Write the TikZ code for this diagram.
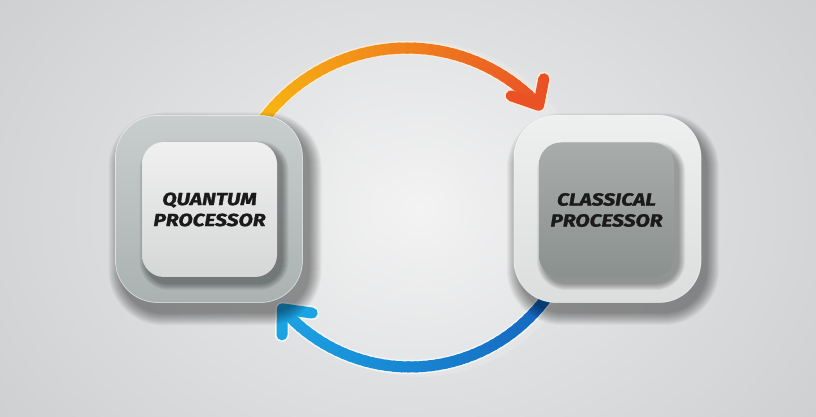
\documentclass[tikz,border=0pt]{standalone}
\usepackage{fontspec}
\newfontfamily\lblfont{Fira Sans}[FakeStretch=1.2, FakeBold=1.6]
\usetikzlibrary{calc}
\definecolor{bgin}{HTML}{EEEEEF}
\definecolor{bgout}{HTML}{C8CACC}
\definecolor{diskin}{HTML}{F5F5F5}
\definecolor{diskout}{HTML}{E5E6E7}
\definecolor{topstart}{HTML}{F8BA10}
\definecolor{topend}{HTML}{EA5226}
\definecolor{tophalo}{HTML}{FBEBD9}
\definecolor{botstart}{HTML}{1562BD}
\definecolor{botend}{HTML}{1BA4E4}
\definecolor{bothalo}{HTML}{F3F7FA}
\definecolor{lotop}{HTML}{C8CECD}
\definecolor{lobot}{HTML}{AAB2B1}
\definecolor{litop}{HTML}{F0F0F0}
\definecolor{libot}{HTML}{D5D6D6}
\definecolor{rotop}{HTML}{EEEFEF}
\definecolor{robot}{HTML}{DCDDDD}
\definecolor{ritop}{HTML}{A8ACAB}
\definecolor{ribot}{HTML}{8B918F}
\definecolor{lbl}{HTML}{1A1A1A}
\newcommand\boxshadow[8]{%
  \foreach \k in {1,...,#7}{%
    \pgfmathsetmacro\rr{#4+\k}%
    \fill[black, opacity=#8, rounded corners=\rr pt]
      ({#1-#3/2-\k+#5},{#2-#3/2-\k+#6}) rectangle ({#1+#3/2+\k+#5},{#2+#3/2+\k+#6});
  }}
\tikzset{
  outerbox/.style={rectangle, rounded corners=42pt, minimum width=187pt,
    minimum height=187pt, inner sep=0pt, draw=white, draw opacity=0.55, line width=0.8pt},
  innerbox/.style={rectangle, rounded corners=22pt, minimum width=135pt,
    minimum height=135pt, inner sep=0pt, align=center, text=lbl,
    font=\lblfont\bfseries\itshape\fontsize{17.5}{21}\selectfont},
  arcseg/.style={line width=11pt, line cap=butt},
  chevron/.style={line width=11pt, line cap=round, line join=round},
}
\begin{document}
\begin{tikzpicture}[x=1pt,y=1pt]
\useasboundingbox (0,0) rectangle (816,417);
% background
\shade[inner color=bgin, outer color=bgout] (-180,-230) rectangle (996,647);
\shade[inner color=diskin, outer color=diskout, opacity=0.8] (420,208) circle (168);
% arc centres and tips
\coordinate (tc) at (407,189);
\coordinate (bc) at (410,219);
\coordinate (ttip) at ($(tc)+(43:180)$);
\coordinate (btip) at ($(bc)+(-139:169)$);
% halos
\draw[tophalo, line width=14pt] ($(tc)+(148:180)$) arc[start angle=148, end angle=43, radius=180];
\draw[tophalo, line width=14pt, line cap=round, line join=round] ($(ttip)+(161:29)$) -- (ttip) -- ($(ttip)+(79:27)$);
\draw[bothalo, line width=14pt] ($(bc)+(-30:169)$) arc[start angle=-30, end angle=-139, radius=169];
\draw[bothalo, line width=14pt, line cap=round, line join=round] ($(btip)+(-8:30)$) -- (btip) -- ($(btip)+(-91:26)$);
% top arc (gradient)
\foreach \i in {0,...,41}{
  \pgfmathsetmacro\aa{148-\i*2.5}
  \pgfmathsetmacro\ab{max(148-(\i+1.4)*2.5,43)}
  \pgfmathtruncatemacro\p{100*\i/41}
  \colorlet{segc}{topend!\p!topstart}
  \draw[segc, arcseg] ($(tc)+(\aa:180)$) arc[start angle=\aa, end angle=\ab, radius=180];
}
\draw[topend, chevron] ($(ttip)+(161:29)$) -- (ttip) -- ($(ttip)+(79:27)$);
% bottom arc (gradient)
\foreach \i in {0,...,43}{
  \pgfmathsetmacro\aa{-30-\i*2.5}
  \pgfmathsetmacro\ab{max(-30-(\i+1.4)*2.5,-139)}
  \pgfmathtruncatemacro\p{100*\i/43}
  \colorlet{segc}{botend!\p!botstart}
  \draw[segc, arcseg] ($(bc)+(\aa:169)$) arc[start angle=\aa, end angle=\ab, radius=169];
}
\draw[botend, chevron] ($(btip)+(-8:30)$) -- (btip) -- ($(btip)+(-91:26)$);
% shadows of outer boxes
\boxshadow{211}{208}{187}{42}{4}{-10}{13}{0.035}
\boxshadow{609}{208}{186}{42}{4}{-10}{13}{0.035}
% left processor
\node[outerbox, top color=lotop, bottom color=lobot] (qo) at (209,208) {};
\boxshadow{210}{207.5}{135}{22}{4}{-6}{7}{0.055}
\node[innerbox, top color=litop, bottom color=libot] (qi) at (209.5,207.5) {QUANTUM\\PROCESSOR};
% right processor
\node[outerbox, top color=rotop, bottom color=robot] (co) at (607.5,208) {};
\boxshadow{607}{207}{134}{22}{4}{-6}{7}{0.055}
\node[innerbox, top color=ritop, bottom color=ribot] (ci) at (606.5,207) {CLASSICAL\\PROCESSOR};
\end{tikzpicture}
\end{document}
